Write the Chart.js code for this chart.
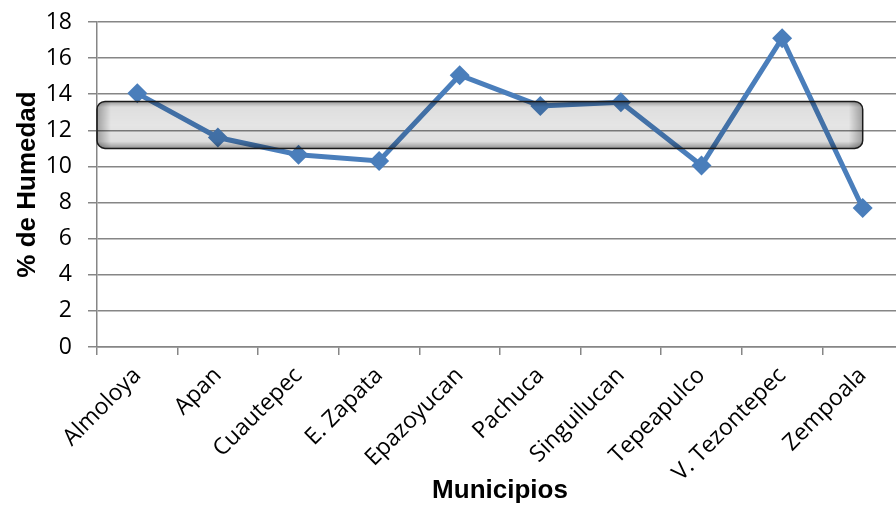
<!DOCTYPE html>
<html>
<head>
<meta charset="utf-8">
<script src="https://cdn.jsdelivr.net/npm/chart.js@4.4.0/dist/chart.umd.min.js"></script>
<style>
  html, body { margin: 0; padding: 0; background: #fff; overflow: hidden; }
  #wrap { width: 913px; height: 506px; position: relative; }
</style>
</head>
<body>
<div id="wrap"><canvas id="lineChart"></canvas></div>
<script>
var municipios = ["Almoloya", "Apan", "Cuautepec", "E. Zapata", "Epazoyucan", "Pachuca", "Singuilucan", "Tepeapulco", "V. Tezontepec", "Zempoala"];
var humedad = [14.05, 11.6, 10.65, 10.3, 15.05, 13.35, 13.55, 10.05, 17.1, 7.7];
var yTicks = [0, 2, 4, 6, 8, 10, 12, 14, 16, 18];
var banda = [11.0, 13.6];   // shaded range, % de humedad

var gris = '#868686';

// the glossy gray band drawn on top of the line
var bandPlugin = {
    id: 'banda',
    afterDatasetsDraw: function(chart) {
        var ctx = chart.ctx;
        var x = chart.scales.x, y = chart.scales.y;
        var left = chart.chartArea.left;
        var right = x.getPixelForValue(municipios.length - 1);
        var top = y.getPixelForValue(banda[1]);
        var bottom = y.getPixelForValue(banda[0]);
        var w = right - left, h = bottom - top, r = 8;

        ctx.save();
        ctx.beginPath();
        ctx.roundRect(left, top, w, h, r);
        var g = ctx.createLinearGradient(0, top, 0, bottom);
        g.addColorStop(0, 'rgba(0,0,0,0.40)');
        g.addColorStop(0.12, 'rgba(0,0,0,0.13)');
        g.addColorStop(0.5, 'rgba(0,0,0,0.10)');
        g.addColorStop(0.85, 'rgba(0,0,0,0.13)');
        g.addColorStop(1, 'rgba(0,0,0,0.42)');
        ctx.fillStyle = g;
        ctx.fill();
        ctx.clip();
        // darker ends
        var gl = ctx.createLinearGradient(left, 0, left + 14, 0);
        gl.addColorStop(0, 'rgba(0,0,0,0.30)');
        gl.addColorStop(1, 'rgba(0,0,0,0)');
        ctx.fillStyle = gl;
        ctx.fillRect(left, top, 14, h);
        var gr = ctx.createLinearGradient(right - 14, 0, right, 0);
        gr.addColorStop(0, 'rgba(0,0,0,0)');
        gr.addColorStop(1, 'rgba(0,0,0,0.30)');
        ctx.fillStyle = gr;
        ctx.fillRect(right - 14, top, 14, h);
        ctx.restore();

        ctx.save();
        ctx.beginPath();
        ctx.roundRect(left, top, w, h, r);
        ctx.lineWidth = 1.5;
        ctx.strokeStyle = '#1a1a1a';
        ctx.stroke();
        ctx.restore();
    }
};

var ctxL = document.getElementById("lineChart").getContext('2d');
var myLineChart = new Chart(ctxL, {
    type: 'line',
    data: {
        labels: municipios,
        datasets: [
            {
                data: humedad,
                borderColor: '#4A7EBB',
                backgroundColor: '#4A7EBB',
                borderWidth: 5,
                pointStyle: 'rectRot',
                pointRadius: 10,
                pointHoverRadius: 10,
                pointBorderWidth: 0,
                tension: 0
            }
        ]
    },
    options: {
        responsive: true,
        maintainAspectRatio: false,
        animation: false,
        events: [],
        layout: { padding: { top: 22, right: 0, left: 0, bottom: 0 } },
        plugins: { legend: { display: false }, tooltip: { enabled: false } },
        scales: {
            x: {
                offset: true,
                afterFit: function(s) { s.height = 159; },
                grid: { offset: true, drawOnChartArea: false, drawTicks: true, tickLength: 8, color: gris, lineWidth: 1.5 },
                border: { color: gris, width: 1.5 },
                ticks: {
                    minRotation: 45, maxRotation: 45, padding: 7,
                    color: '#000',
                    font: { family: '"Open Sans", "Noto Sans", sans-serif', size: 23 }
                },
                title: {
                    display: true, text: 'Municipios', color: '#000',
                    padding: { top: 0, bottom: 0 },
                    font: { family: '"Liberation Sans", Arial, sans-serif', size: 26, weight: 'bold' }
                }
            },
            y: {
                min: 0, max: 18,
                afterFit: function(s) { s.width = 97; s.paddingTop = 0; s.paddingBottom = 0; },
                afterBuildTicks: function(s) { s.ticks = yTicks.map(function(v) { return { value: v }; }); },
                grid: { color: gris, lineWidth: 1.5, tickLength: 9 },
                border: { color: gris, width: 1.5 },
                ticks: {
                    padding: 16, color: '#000',
                    font: { family: '"Open Sans", "Noto Sans", sans-serif', size: 23 }
                },
                title: {
                    display: true, text: '% de Humedad', color: '#000',
                    padding: { top: 12, bottom: 0 },
                    font: { family: '"Liberation Sans", Arial, sans-serif', size: 26, weight: 'bold' }
                }
            }
        }
    },
    plugins: [bandPlugin]
});
</script>
</body>
</html>
